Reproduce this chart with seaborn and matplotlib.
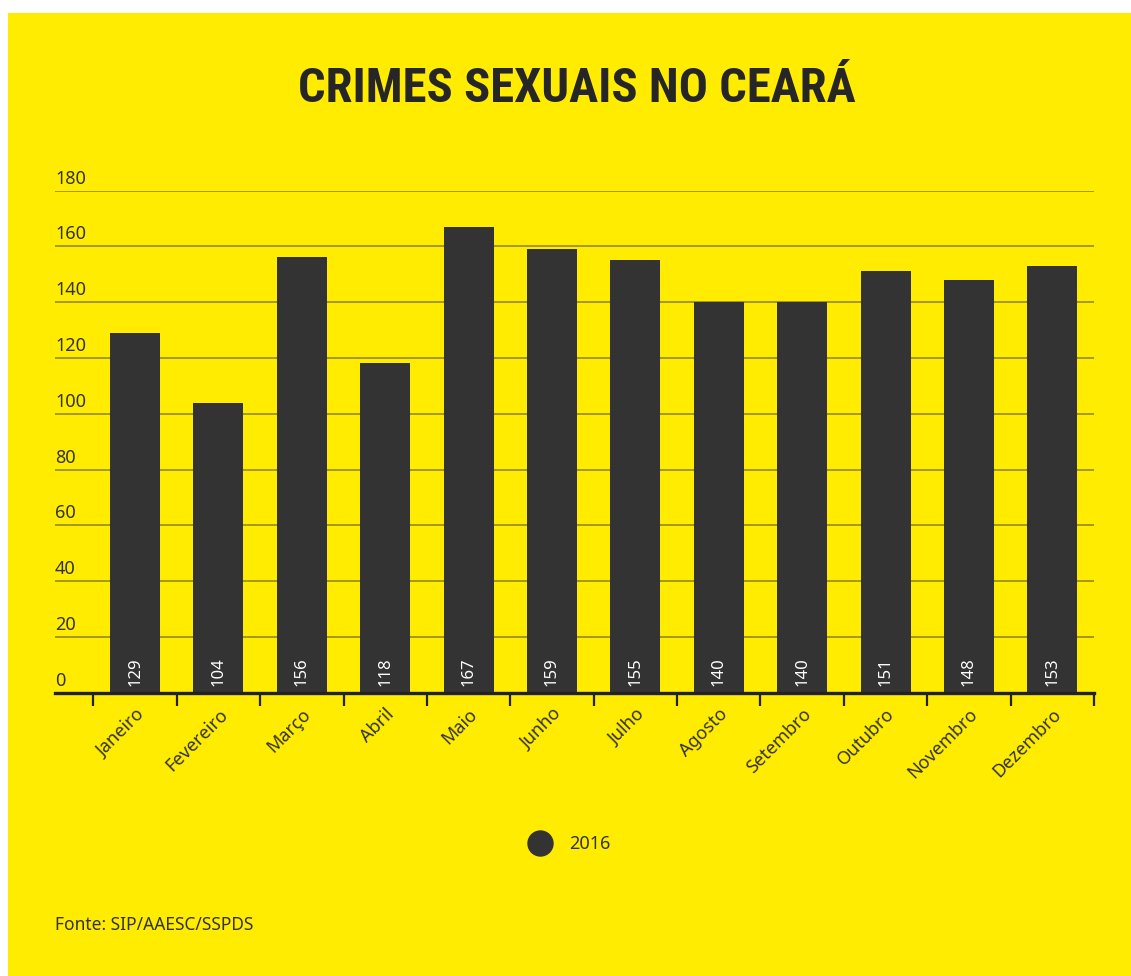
import matplotlib
matplotlib.use("Agg")
import matplotlib.pyplot as plt
import seaborn as sns
import numpy as np
import pandas as pd
from matplotlib.patches import Rectangle
from matplotlib.lines import Line2D

months = ["Janeiro", "Fevereiro", "Março", "Abril", "Maio", "Junho", "Julho",
          "Agosto", "Setembro", "Outubro", "Novembro", "Dezembro"]
values = [129, 104, 156, 118, 167, 159, 155, 140, 140, 151, 148, 153]
yticks = [0, 20, 40, 60, 80, 100, 120, 140, 160, 180]
series_name = "2016"
title = "CRIMES SEXUAIS NO CEARÁ"
source = "Fonte: SIP/AAESC/SSPDS"

YELLOW = "#ffec00"
BAR = "#333333"
TXT = "#333333"
FONT = ["Noto Sans", "DejaVu Sans"]

sns.set_theme(style="white")
plt.rcParams["font.family"] = FONT

W, H = 1131, 976
fig = plt.figure(figsize=(W / 100, H / 100), dpi=100, facecolor="white")
fig.patches.append(Rectangle((8 / W, 0), 1 - 8 / W, 1 - 13 / H, transform=fig.transFigure,
                             facecolor=YELLOW, edgecolor="none", zorder=-10))

ax = fig.add_axes([55 / W, 1 - 692.7 / H, (1094 - 55) / W, (692.7 - 190.5) / H])
ax.set_facecolor("none")

df = pd.DataFrame({"month": months, "value": values})
sns.barplot(data=df, x="month", y="value", color=BAR, width=0.6, saturation=1,
            linewidth=0, edgecolor=BAR, ax=ax, zorder=3)

ax.set_ylim(0, 180)
ax.set_xlim(-0.96, 11.5)
ax.set_xlabel("")
ax.set_ylabel("")

# gridlines
ax.set_yticks(yticks)
ax.yaxis.grid(True, color="#333333", alpha=0.45, linewidth=1.4, zorder=0)
ax.xaxis.grid(False)
ax.tick_params(axis="y", length=0, labelleft=False)
for v in yticks:
    ax.annotate(str(v), xy=(0, v), xycoords=("axes fraction", "data"),
                xytext=(0, 5), textcoords="offset points", ha="left", va="baseline",
                fontsize=13, color=TXT)

for s in ["top", "right", "left"]:
    ax.spines[s].set_visible(False)
ax.spines["bottom"].set_color("#222222")
ax.spines["bottom"].set_linewidth(2.4)
ax.spines["bottom"].set_zorder(5)

# x ticks: labels at centres, marks at boundaries
ax.set_xticks(range(len(months)))
ax.set_xticklabels(months, rotation=45, ha="right", va="top", rotation_mode="anchor",
                   fontsize=13, color=TXT)
ax.set_xticks(np.arange(-0.5, len(months), 1), minor=True)
ax.tick_params(axis="x", which="major", length=0, pad=9)
ax.tick_params(axis="x", which="minor", length=9.5, width=1.6, color="#222222",
               direction="out", bottom=True)

# value labels
for i, v in enumerate(values):
    ax.annotate(str(v), xy=(i, 0), xycoords="data", xytext=(0, 4.5),
                textcoords="offset points", rotation=90, ha="center", va="bottom",
                fontsize=12, color="white", zorder=6)

# title
fig.text(577 / W, 1 - 89 / H, title, ha="center", va="center", fontsize=35,
         fontweight="bold", color="#262626",
         family=["Roboto Condensed", "Liberation Sans Narrow", "Roboto", "DejaVu Sans"])

# legend
handle = Line2D([], [], marker="o", linestyle="none", markersize=18,
                markerfacecolor=BAR, markeredgecolor=BAR)
fig.legend([handle], [series_name], loc="center", bbox_to_anchor=(566 / W, 1 - 844 / H),
           frameon=False, fontsize=13, labelcolor=TXT, handletextpad=0.6)

fig.text(55 / W, 1 - 925 / H, source, ha="left", va="center", fontsize=12.5, color=TXT)

fig.savefig("out.png", dpi=100, facecolor=fig.get_facecolor())
